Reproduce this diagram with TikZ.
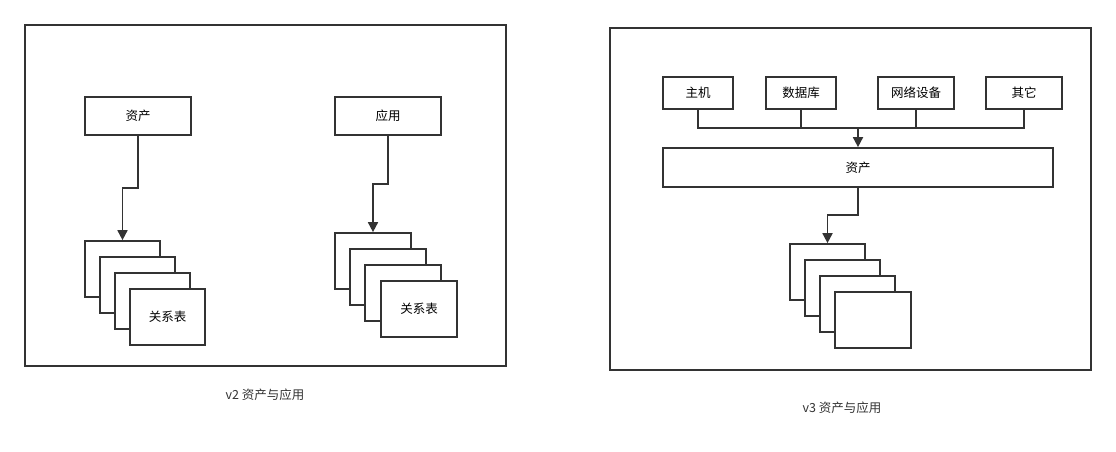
\documentclass[tikz,border=0pt]{standalone}
\usepackage{fontspec}
\setmainfont{Noto Sans CJK SC}
\usetikzlibrary{arrows.meta}
\begin{document}
\begin{tikzpicture}[x=1pt,y=-1pt,line width=1.7pt,
  box/.style={draw=black!80,fill=white,font=\fontsize{12.5}{14}\selectfont},
  captxt/.style={font=\fontsize{12.5}{14}\selectfont,text=black!80},
  arr/.style={draw=black!80,-{Triangle[length=10pt,width=10pt]}},
  ln/.style={draw=black!80}]
\useasboundingbox (0,0) rectangle (1116,451);
\draw[black!80] (25,25) rectangle (506,366);
\draw[black!80] (610,28) rectangle (1091,370);
% left
\node[box,minimum width=106pt,minimum height=38pt] (a1) at (138,116) {资产};
\node[box,minimum width=106pt,minimum height=38pt] (b1) at (388,116) {应用};
\node[box,minimum width=75pt,minimum height=56pt] (s1) at (122.5,269) {};
\node[box,minimum width=75pt,minimum height=56pt] (s2) at (137.5,285) {};
\node[box,minimum width=75pt,minimum height=56pt] (s3) at (152.5,301) {};
\node[box,minimum width=75pt,minimum height=56pt] (s4) at (167.5,317) {关系表};
\node[box,minimum width=76pt,minimum height=56pt] (t1) at (373,261) {};
\node[box,minimum width=76pt,minimum height=56pt] (t2) at (388,277) {};
\node[box,minimum width=76pt,minimum height=56pt] (t3) at (403,293) {};
\node[box,minimum width=76pt,minimum height=56pt] (t4) at (419,309) {关系表};
\draw[arr] (a1.south) -- (138,188) -- (122.5,188) -- (s1.north);
\draw[arr] (b1.south) -- (388,184) -- (373,184) -- (t1.north);
\node[captxt] (c1) at (265,395) {v2 资产与应用};
% right
\node[box,minimum width=70pt,minimum height=32pt] (h1) at (698,93) {主机};
\node[box,minimum width=70pt,minimum height=32pt] (h2) at (801,93) {数据库};
\node[box,minimum width=76pt,minimum height=32pt] (h3) at (916,93) {网络设备};
\node[box,minimum width=76pt,minimum height=32pt] (h4) at (1024,93) {其它};
\node[box,minimum width=390pt,minimum height=39pt] (z) at (858,167.5) {资产};
\coordinate (bus) at (858,128);
\draw[ln] (h1.south) -- (698,128) -- (1024,128) -- (h4.south);
\draw[ln] (h2.south) -- (801,128);
\draw[ln] (h3.south) -- (916,128);
\draw[arr] (bus) -- (z.north);
\node[box,minimum width=75pt,minimum height=56pt] (u1) at (827.5,272) {};
\node[box,minimum width=75pt,minimum height=56pt] (u2) at (842.5,288) {};
\node[box,minimum width=75pt,minimum height=56pt] (u3) at (857.5,304) {};
\node[box,minimum width=76pt,minimum height=56pt] (u4) at (873,320) {};
\draw[arr] (z.south) -- (858,215) -- (827.5,215) -- (u1.north);
\node[captxt] (c2) at (842,408) {v3 资产与应用};
\end{tikzpicture}
\end{document}
